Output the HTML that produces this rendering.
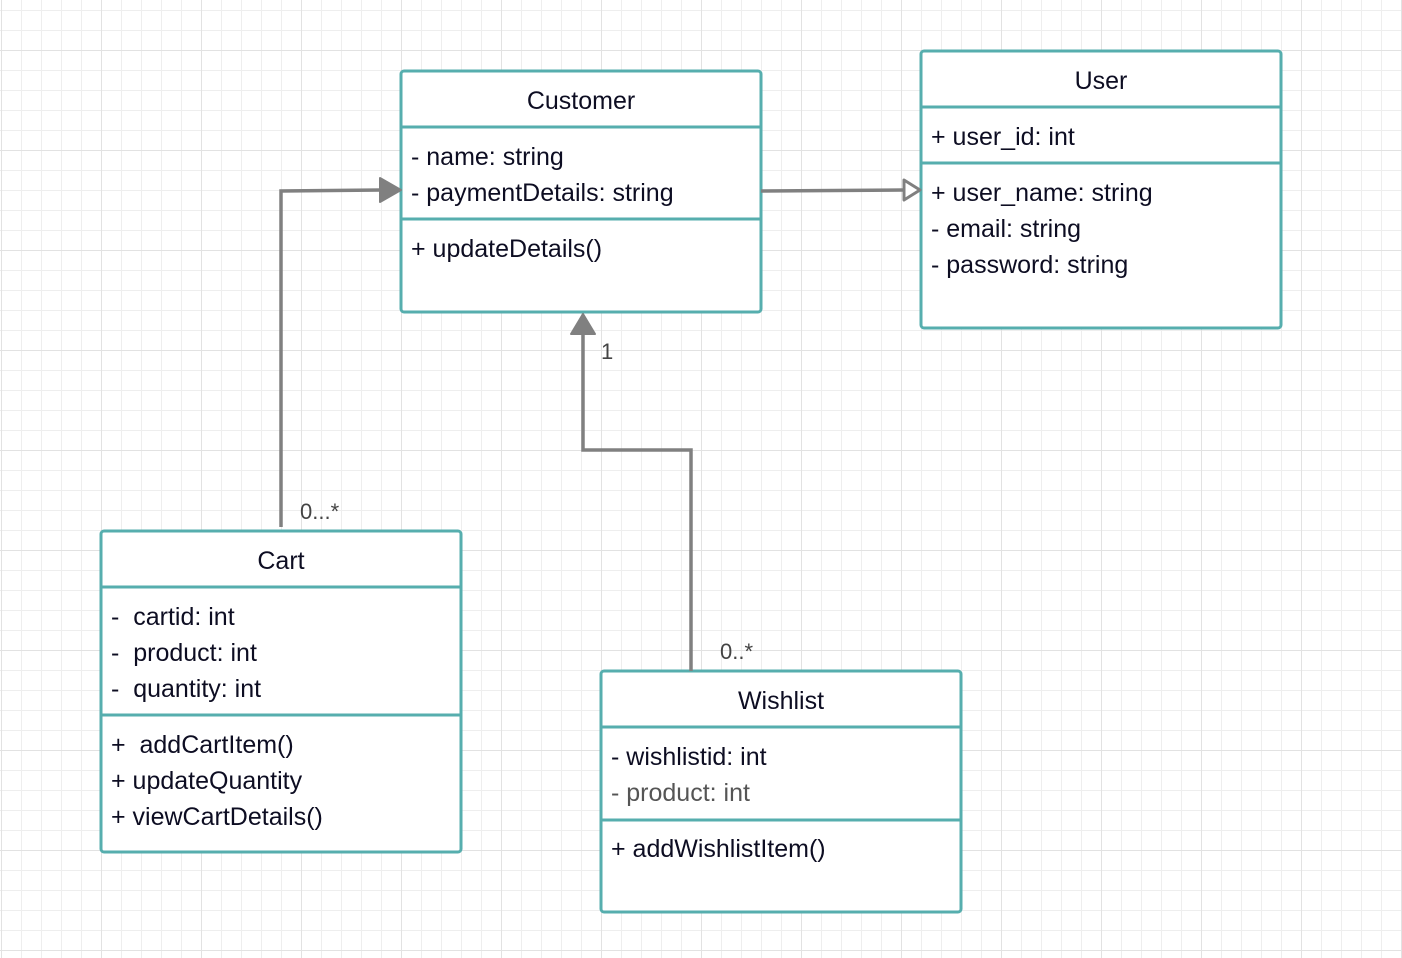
<!DOCTYPE html>
<html><head><meta charset="utf-8"><style>
html,body{margin:0;padding:0;background:#fff}
svg{display:block}
text{font-family:"Liberation Sans",sans-serif;font-size:25px;fill:#0d0d22}
</style></head><body>
<svg width="1402" height="958" viewBox="0 0 1402 958" xmlns="http://www.w3.org/2000/svg">
<defs>
<pattern id="minor" width="20" height="20" patternUnits="userSpaceOnUse" x="1" y="10">
<path d="M0 0H20M0 0V20" stroke="#eeeeee" stroke-width="2" fill="none"/>
</pattern>
<pattern id="major" width="100" height="100" patternUnits="userSpaceOnUse" x="1" y="50">
<path d="M0 0H100M0 0V100" stroke="#e2e2e2" stroke-width="2" fill="none"/>
</pattern>
</defs>
<rect width="1402" height="958" fill="url(#minor)"/>
<rect width="1402" height="958" fill="url(#major)"/>

<g fill="#fff" stroke="#56aeae" stroke-width="3">
<rect x="401" y="71" width="360" height="241" rx="3"/>
<line x1="401" y1="127" x2="761" y2="127"/><line x1="401" y1="219" x2="761" y2="219"/>
<rect x="921" y="51" width="360" height="277" rx="3"/>
<line x1="921" y1="107" x2="1281" y2="107"/><line x1="921" y1="163" x2="1281" y2="163"/>
<rect x="101" y="531" width="360" height="321" rx="3"/>
<line x1="101" y1="587" x2="461" y2="587"/><line x1="101" y1="715" x2="461" y2="715"/>
<rect x="601" y="671" width="360" height="241" rx="3"/>
<line x1="601" y1="727" x2="961" y2="727"/><line x1="601" y1="820" x2="961" y2="820"/>
</g>

<g stroke="#808080" stroke-width="3.5" fill="none">
<polyline points="281,527 281,191 385,190"/>
<polyline points="691,671 691,450 583,450 583,330"/>
<line x1="761" y1="191" x2="904" y2="190"/>
</g>
<polygon points="380,178 401,190 380,202" fill="#808080" stroke="#808080" stroke-width="2" stroke-linejoin="round"/>
<polygon points="571,334 583,314 595,334" fill="#808080" stroke="#808080" stroke-width="2" stroke-linejoin="round"/>
<polygon points="904,180 920,190 904,200" fill="#fff" stroke="#808080" stroke-width="3" stroke-linejoin="round"/>

<text x="581" y="109" text-anchor="middle">Customer</text>
<text x="411" y="165">- name: string</text>
<text x="411" y="201">- paymentDetails: string</text>
<text x="411" y="257">+ updateDetails()</text>

<text x="1101" y="89" text-anchor="middle">User</text>
<text x="931" y="145">+ user_id: int</text>
<text x="931" y="201">+ user_name: string</text>
<text x="931" y="237">- email: string</text>
<text x="931" y="273">- password: string</text>

<text x="281" y="569" text-anchor="middle">Cart</text>
<text x="111" y="625" xml:space="preserve">-  cartid: int</text>
<text x="111" y="661" xml:space="preserve">-  product: int</text>
<text x="111" y="697" xml:space="preserve">-  quantity: int</text>
<text x="111" y="753" xml:space="preserve">+  addCartItem()</text>
<text x="111" y="789">+ updateQuantity</text>
<text x="111" y="825">+ viewCartDetails()</text>

<text x="781" y="709" text-anchor="middle">Wishlist</text>
<text x="611" y="765">- wishlistid: int</text>
<text x="611" y="801" style="fill:#555">- product: int</text>
<text x="611" y="857">+ addWishlistItem()</text>

<text x="300" y="519" style="fill:#444;font-size:22px">0...*</text>
<text x="601" y="359" style="fill:#444;font-size:22px">1</text>
<text x="720" y="659" style="fill:#444;font-size:22px">0..*</text>
</svg>
</body></html>
